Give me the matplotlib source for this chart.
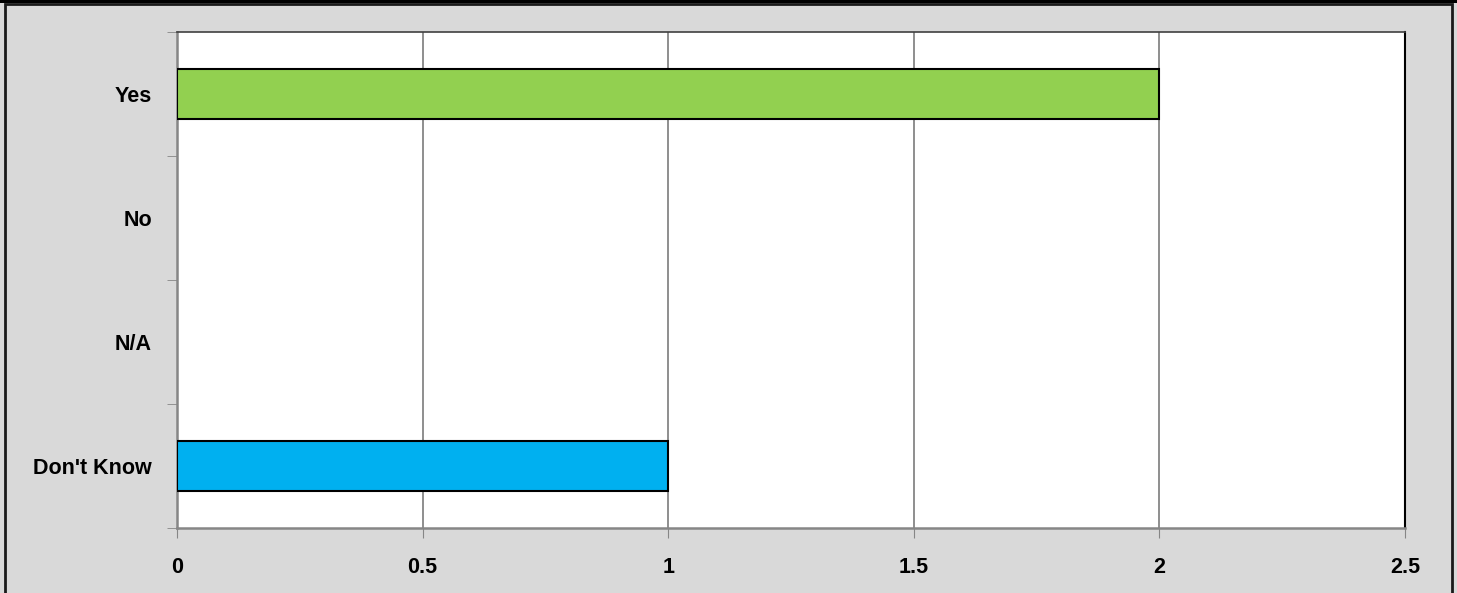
import matplotlib.pyplot as plt
from matplotlib.patches import Rectangle

# datos
categorias = ['Yes', 'No', 'N/A', "Don't Know"]
valores = [2, 0, 0, 1]
colores = ['#92D050', '#92D050', '#92D050', '#00B0F0']
xticks = [0, 0.5, 1, 1.5, 2, 2.5]
xtick_labels = ['0', '0.5', '1', '1.5', '2', '2.5']

plt.rcParams['font.family'] = ['Liberation Sans', 'DejaVu Sans']

fig = plt.figure(figsize=(14.57, 5.93), dpi=100, facecolor='#D9D9D9')
ax = fig.add_axes([177/1457, 65/593, 1228/1457, 496/593])
ax.set_facecolor('white')

pos = list(range(len(categorias)))[::-1]
for p, v, c in zip(pos, valores, colores):
    if v > 0:
        ax.barh(p, v, height=0.4, color=c, edgecolor='black', linewidth=1.5, zorder=3)

ax.set_xlim(0, 2.5)
ax.set_ylim(-0.5, len(categorias) - 0.5)
ax.set_xticks(xticks)
ax.set_xticklabels(xtick_labels, fontsize=15.5, fontweight='bold')
ax.set_yticks(pos)
ax.set_yticklabels(categorias, fontsize=15.5, fontweight='bold')
ax.set_yticks([y - 0.5 for y in range(len(categorias) + 1)], minor=True)
ax.tick_params(axis='y', which='major', length=0, pad=18)
ax.tick_params(axis='y', which='minor', length=7, color='#868686', direction='out')
ax.tick_params(axis='x', length=7, color='#868686', direction='out', pad=14)
ax.grid(axis='x', color='#868686', linewidth=1.3, zorder=0)
ax.set_axisbelow(True)

ax.spines['left'].set_color('#868686')
ax.spines['bottom'].set_color('#868686')
ax.spines['left'].set_linewidth(1.8)
ax.spines['bottom'].set_linewidth(1.8)
ax.spines['top'].set_color('#404040')
ax.spines['right'].set_color('black')
ax.spines['top'].set_linewidth(1.2)
ax.spines['right'].set_linewidth(1.5)

# borde de la figura
fig.patches.append(Rectangle((5/1457, -0.01), 1447/1457, 1.0 - 4/593 + 0.01, transform=fig.transFigure,
                             fill=False, edgecolor='#1a1a1a', linewidth=2))
fig.patches.append(Rectangle((0, 1 - 3/593), 1, 3/593, transform=fig.transFigure,
                             facecolor='black', edgecolor='none'))

fig.savefig('out.png', dpi=100, facecolor=fig.get_facecolor())
